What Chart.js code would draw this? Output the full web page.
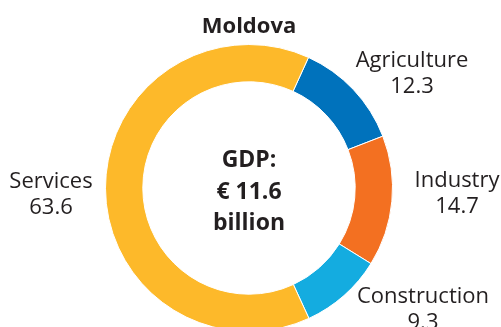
<!DOCTYPE html>
<html>
<head>
<meta charset="utf-8">
<script src="https://cdn.jsdelivr.net/npm/chart.js@4.4.1/dist/chart.umd.min.js"></script>
<style>
  html, body { margin: 0; padding: 0; background: #ffffff; overflow: hidden; }
  #wrap { position: relative; width: 501px; height: 335px; }
</style>
</head>
<body>
<div id="wrap"><canvas id="c"></canvas></div>
<script>
// ---- data ----
const chartTitle = 'Moldova';
const categories = ['Agriculture', 'Industry', 'Construction', 'Services'];
const values = [12.3, 14.7, 9.3, 63.6];
const valueLabels = ['12.3', '14.7', '9.3', '63.6'];
const centerLines = ['GDP:', '€ 11.6', 'billion'];
const colors = ['#0072bc', '#f37021', '#14ace0', '#fdb92a'];

// label placement relative to the doughnut centre (annotation layout)
const labelOffsets = [
  { dx: 163, dy: -121 },
  { dx: 208, dy: -1 },
  { dx: 174, dy: 115 },
  { dx: -198, dy: 0 }
];
const centerBaselines = [-21, 11, 42];
const FONT = '"Open Sans", "Noto Sans", sans-serif';
const TEXT = '#231f20';

const textPlugin = {
  id: 'texts',
  afterDraw(chart) {
    const ctx = chart.ctx;
    const arc = chart.getDatasetMeta(0).data[0];
    const cx = arc.x, cy = arc.y;
    ctx.save();
    ctx.fillStyle = TEXT;
    ctx.textAlign = 'center';
    ctx.textBaseline = 'alphabetic';
    // title
    ctx.font = 'bold 22px ' + FONT;
    ctx.fillText(chartTitle, cx, 33);
    // centre text
    ctx.font = 'bold 23px ' + FONT;
    centerLines.forEach((t, i) => ctx.fillText(t, cx, cy + centerBaselines[i]));
    // category labels
    ctx.font = '22px ' + FONT;
    categories.forEach((c, i) => {
      const o = labelOffsets[i];
      ctx.fillText(c, cx + o.dx, cy + o.dy);
      ctx.fillText(valueLabels[i], cx + o.dx, cy + o.dy + 26);
    });
    ctx.restore();
  }
};

new Chart(document.getElementById('c'), {
  type: 'doughnut',
  data: {
    labels: categories,
    datasets: [{
      data: values,
      backgroundColor: colors,
      borderColor: '#ffffff',
      borderWidth: 1
    }]
  },
  options: {
    responsive: true,
    maintainAspectRatio: false,
    animation: false,
    rotation: 24.5,
    cutout: '74%',
    layout: { padding: { top: 44, left: 0, right: 3, bottom: 3 } },
    plugins: {
      legend: { display: false },
      title: { display: false },
      tooltip: { enabled: false }
    }
  },
  plugins: [textPlugin]
});
</script>
</body>
</html>
